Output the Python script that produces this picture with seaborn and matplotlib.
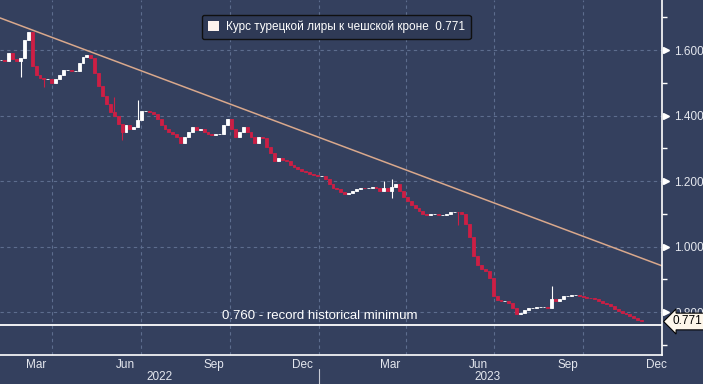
import numpy as np
import pandas as pd
import seaborn as sns
import matplotlib.pyplot as plt
import matplotlib.dates as mdates
from matplotlib.patches import Patch
from matplotlib.ticker import FuncFormatter, FixedLocator

# TRY/CZK closes (roughly one every 4 days)
close = [
    1.570, 1.565, 1.590, 1.572, 1.565, 1.575, 1.630, 1.655, 1.550, 1.525,
    1.515, 1.510, 1.510, 1.500, 1.510, 1.525, 1.540, 1.540, 1.535, 1.535,
    1.560, 1.578, 1.585, 1.575, 1.530, 1.490, 1.460, 1.435, 1.410, 1.400,
    1.375, 1.350, 1.370, 1.360, 1.365, 1.385, 1.415, 1.415, 1.410, 1.405,
    1.390, 1.370, 1.360, 1.350, 1.345, 1.335, 1.315, 1.335, 1.350, 1.365,
    1.355, 1.360, 1.350, 1.345, 1.340, 1.345, 1.345, 1.370, 1.390, 1.360,
    1.335, 1.350, 1.365, 1.350, 1.335, 1.315, 1.335, 1.330, 1.305, 1.285,
    1.260, 1.270, 1.265, 1.262, 1.250, 1.243, 1.237, 1.230, 1.227, 1.222,
    1.218, 1.215, 1.215, 1.205, 1.190, 1.180, 1.175, 1.165, 1.160, 1.163,
    1.168, 1.175, 1.180, 1.178, 1.180, 1.183, 1.180, 1.168, 1.180, 1.170,
    1.183, 1.190, 1.170, 1.150, 1.140, 1.127, 1.117, 1.108, 1.100, 1.096,
    1.100, 1.100, 1.095, 1.097, 1.100, 1.105, 1.105, 1.104, 1.100, 1.068,
    1.030, 0.970, 0.942, 0.932, 0.926, 0.905, 0.850, 0.836, 0.835, 0.835,
    0.828, 0.812, 0.795, 0.798, 0.807, 0.811, 0.813, 0.815, 0.815, 0.815,
    0.813, 0.840, 0.835, 0.840, 0.848, 0.850, 0.852, 0.853, 0.848, 0.846,
    0.844, 0.842, 0.839, 0.835, 0.829, 0.824, 0.818, 0.810, 0.803, 0.798,
    0.793, 0.788, 0.783, 0.777, 0.771,
]
dates = pd.date_range("2022-02-07", "2023-11-30", periods=len(close))

# notable wicks
spike_high = {29: 1.456, 35: 1.447, 98: 1.200, 100: 1.205, 141: 0.879}
spike_low = {5: 1.518, 11: 1.487, 31: 1.325, 100: 1.148, 117: 1.065}

trend_dates = pd.to_datetime(["2022-02-06", "2023-12-21"])
trend_vals = [1.698, 0.941]

record_min = 0.760
last_val = 0.771
y_major = [0.8, 1.0, 1.2, 1.4, 1.6]
y_minor = [0.7, 0.9, 1.1, 1.3, 1.5, 1.7]
legend_label = "Курс турецкой лиры к чешской кроне  0.771"
min_label = "0.760 - record historical minimum"

bg = "#34405e"
red = "#cc1f45"
grid_c = "#5d6d8e"
txt_c = "#e4e7ee"

sns.set_style("dark", rc={"axes.facecolor": bg, "figure.facecolor": bg,
                           "axes.edgecolor": "white", "axes.grid": False})
plt.rcParams["font.family"] = ["Liberation Sans", "DejaVu Sans"]

fig = plt.figure(figsize=(7.03, 3.84), dpi=100)
ax = fig.add_axes([0, 29 / 384, 662 / 703, 355 / 384])

df = pd.DataFrame({"date": dates, "close": close})
df["open"] = df["close"].shift(1).fillna(df["close"].iloc[0])
df["lo"] = df[["open", "close"]].min(axis=1)
df["hi"] = df[["open", "close"]].max(axis=1)
df["low"] = df["lo"]
df["high"] = df["hi"]
for i, v in spike_high.items():
    df.loc[i, "high"] = v
for i, v in spike_low.items():
    df.loc[i, "low"] = v
cols = np.where(df["close"] >= df["open"], "white", red)

# grid
for q in pd.date_range("2022-04-01", "2023-12-01", freq="QS"):
    ax.axvline(q, color=grid_c, lw=0.8, ls=(0, (3, 3)), zorder=0)
for y in y_major:
    ax.axhline(y, color=grid_c, lw=0.8, ls=(0, (3, 3)), zorder=0)

# candles
ax.vlines(df["date"], df["low"], df["high"], colors=cols, lw=0.8, zorder=3)
ax.bar(df["date"], df["hi"] - df["lo"], bottom=df["lo"], width=3.0,
       color=cols, edgecolor=cols, linewidth=0.6, zorder=3)

# trend line
sns.lineplot(x=trend_dates, y=trend_vals, ax=ax, color="#d9a88c", lw=1.1, zorder=2)

# record minimum
ax.axhline(record_min, color="white", lw=1.3, zorder=4)
ax.text(pd.Timestamp("2023-01-02"), 0.789, min_label, color="white",
        fontsize=9.5, ha="center", va="center")

ax.set_xlim(pd.Timestamp("2022-02-06"), pd.Timestamp("2023-12-21"))
ax.set_ylim(0.6687, 1.7527)
ax.set_xlabel("")
ax.set_ylabel("")

# y axis on the right
ax.yaxis.tick_right()
ax.set_yticks(y_major)
ax.set_yticklabels([f"{v:.3f}" for v in y_major])
ax.yaxis.set_minor_locator(FixedLocator(y_minor))
ax.tick_params(axis="y", which="major", length=0, pad=9, labelsize=8.5, labelcolor=txt_c)
ax.tick_params(axis="y", which="minor", length=3.5, width=1, color="white", direction="out")
ytr = ax.get_yaxis_transform()
ax.plot([1.006] * len(y_major), y_major, marker=">", ms=4.5, ls="none",
        color="white", transform=ytr, clip_on=False)

# x axis: month ticks, quarter-month labels
ax.xaxis.set_major_locator(mdates.MonthLocator())
ax.xaxis.set_major_formatter(FuncFormatter(lambda x, p: ""))
ax.xaxis.set_minor_locator(mdates.MonthLocator(bymonthday=15))
ax.xaxis.set_minor_formatter(FuncFormatter(
    lambda x, p: mdates.num2date(x).strftime("%b") if mdates.num2date(x).month in (3, 6, 9, 12) else ""))
ax.tick_params(axis="x", which="major", length=3.5, width=1, color="white", direction="out")
ax.tick_params(axis="x", which="minor", length=0, pad=3, labelsize=8.5, labelcolor=txt_c)

for sp in ["top", "left"]:
    ax.spines[sp].set_visible(False)
for sp in ["right", "bottom"]:
    ax.spines[sp].set_color("white")
    ax.spines[sp].set_linewidth(1.2)

xtr = ax.get_xaxis_transform()
ax.text(pd.Timestamp("2022-07-21"), -0.063, "2022", transform=xtr, ha="center",
        va="center", fontsize=8.5, color=txt_c)
ax.text(pd.Timestamp("2023-06-24"), -0.063, "2023", transform=xtr, ha="center",
        va="center", fontsize=8.5, color=txt_c)
ax.plot([pd.Timestamp("2023-01-01")] * 2, [-0.04, -0.09], color="#c8ccd6", lw=0.8,
        transform=xtr, clip_on=False)

# last value tag
ax.annotate(f"{last_val:.3f}", xy=(1.0, last_val), xycoords=ytr,
            xytext=(1.016, last_val), textcoords=ytr, fontsize=8.5, color="black",
            va="center", ha="left", zorder=10, annotation_clip=False,
            bbox=dict(boxstyle="larrow,pad=0.2", fc="#fdf6ea", ec="black", lw=0.8))

leg = ax.legend(handles=[Patch(facecolor="#fdf3ee", edgecolor="none")], labels=[legend_label],
                loc="upper center", bbox_to_anchor=(0.508, 0.975), fontsize=8.5,
                frameon=True, fancybox=True, handlelength=0.9, handleheight=0.9,
                handletextpad=0.6, borderpad=0.5)
leg.get_frame().set_facecolor("#2f3a56")
leg.get_frame().set_edgecolor("#101010")
leg.get_frame().set_alpha(1)
for t in leg.get_texts():
    t.set_color("white")

fig.savefig("out.png", dpi=100, facecolor=bg)
